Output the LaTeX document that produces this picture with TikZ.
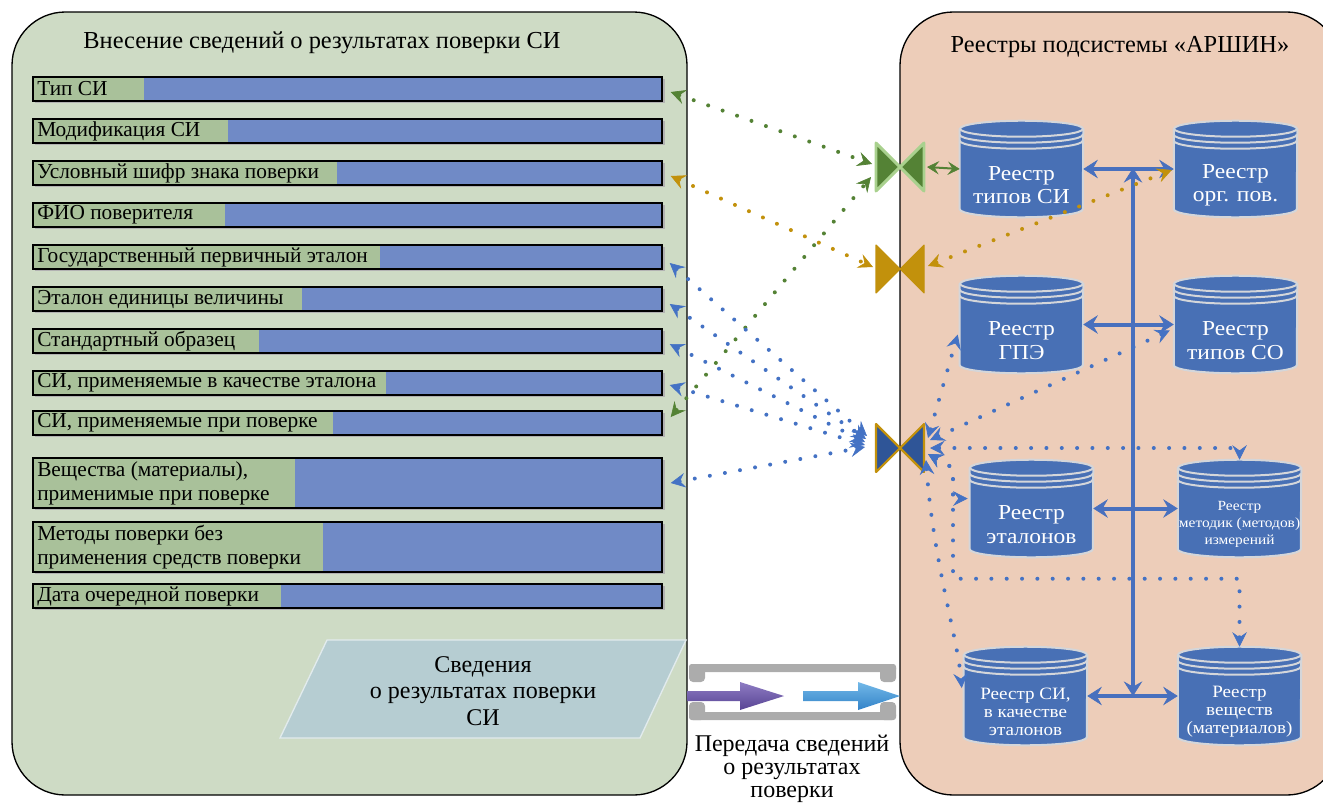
\documentclass[tikz,border=0pt]{standalone}
\usepackage{fontspec}
\setmainfont{Liberation Serif}
\newfontfamily\cylf[FakeStretch=1.1]{Liberation Serif}
\usetikzlibrary{arrows.meta,calc}
\definecolor{lpanel}{RGB}{206,219,197}
\definecolor{rpanel}{RGB}{237,205,185}
\definecolor{bargreen}{RGB}{169,193,154}
\definecolor{barblue}{RGB}{112,138,198}
\definecolor{cylblue}{RGB}{72,112,181}
\definecolor{cyledge}{RGB}{212,214,218}
\definecolor{dgreen}{RGB}{84,130,53}
\definecolor{lgreen}{RGB}{169,209,142}
\definecolor{gold}{RGB}{194,145,12}
\definecolor{dblue}{RGB}{47,85,151}
\definecolor{lineblue}{RGB}{68,114,196}
\definecolor{busblue}{RGB}{72,112,190}
\definecolor{para}{RGB}{182,205,210}
\definecolor{graybar}{RGB}{172,172,172}
\definecolor{purpL}{RGB}{142,124,195}
\definecolor{purpD}{RGB}{88,68,148}
\definecolor{skyL}{RGB}{115,185,232}
\definecolor{skyD}{RGB}{50,130,200}
\tikzset{
  panel/.style={draw=black, line width=1pt, rounded corners=40pt},
  barframe/.style={draw=black, line width=1.1pt, inner sep=0pt, minimum width=471.75pt},
  bartext/.style={inner sep=0pt, anchor=west, align=left, font=\fontsize{16}{18}\selectfont},
  cylnode/.style={inner sep=0pt},
  cyltext/.style={text=white, align=center},
  cyledgeline/.style={draw=cyledge, line width=1.5pt},
  dots/.style={line width=3pt, dash pattern=on 0pt off 11.5pt, line cap=round},
  dtips/.style={arrows={Stealth[length=11pt,width=11pt,inset=4pt,line width=0.5pt]-Stealth[length=11pt,width=11pt,inset=4pt,line width=0.5pt]}},
  bus/.style={draw=busblue, line width=3pt, arrows={Stealth[length=11pt,width=14pt,inset=4pt,line width=0.5pt]-Stealth[length=11pt,width=14pt,inset=4pt,line width=0.5pt]}},
  gtip/.style={draw=dgreen, line width=1.5pt, arrows={Stealth[length=9pt,width=10pt,inset=3.5pt,line width=0.5pt]-Stealth[length=9pt,width=10pt,inset=3.5pt,line width=0.5pt]}},
  bowt/.style={inner sep=0pt, minimum size=37.5pt},
  titletext/.style={font=\fontsize{18.3}{21}\selectfont},
}
\newcommand\infobar[5]{%
  \fill[black!30] (35,{#2+2}) rectangle (665,{#3+2});
  \fill[barblue] (33,#2) rectangle (662,#3);
  \fill[bargreen] (33,#2) rectangle (#4,#3);
  \node[barframe, minimum height={(#3-#2)*0.75pt}] (#1) at (347.5,{(#2+#3)/2}) {};
  \node[bartext] (#1t) at (37,{(#2+#3)/2}) {#5};
}
\newcommand\regcyl[7]{%
  \node[cylnode, minimum width={#4*0.75pt}, minimum height={#5*0.75pt}] (#1) at (#2,{#3+#5/2}) {};
  \fill[cylblue] ($(#1.north west)+(0,8)$) -- ($(#1.south west)+(0,-8)$)
     arc[start angle=180, end angle=360, x radius={#4*0.375pt}, y radius=6pt]
     -- ($(#1.north east)+(0,8)$) -- cycle;
  \draw[cyledgeline] ($(#1.north west)+(0,8)$) -- ($(#1.south west)+(0,-8)$)
     arc[start angle=180, end angle=360, x radius={#4*0.375pt}, y radius=6pt]
     -- ($(#1.north east)+(0,8)$);
  \filldraw[fill=cylblue, cyledgeline] ($(#1.north)+(0,8)$) ellipse[x radius={#4*0.375pt}, y radius=6pt];
  \draw[cyledgeline] ($(#1.north west)+(0,14)$) arc[start angle=180, end angle=360, x radius={#4*0.375pt}, y radius=6pt];
  \draw[cyledgeline] ($(#1.north west)+(0,20)$) arc[start angle=180, end angle=360, x radius={#4*0.375pt}, y radius=6pt];
  \node[cyltext, font=#6] (#1t) at ($(#1.center)+(0,16)$) {#7};
}
\newcommand\bowtienode[6]{%
  \node[bowt] (#1) at (#2,#3) {};
  \filldraw[fill=#4, draw=#5, line width=#6, line join=round] ($(#1.center)+(-24,-24)$) -- ($(#1.center)+(-24,24)$) -- (#1.center) -- cycle;
  \filldraw[fill=#4, draw=#5, line width=#6, line join=round] ($(#1.center)+(24,-24)$) -- ($(#1.center)+(24,24)$) -- (#1.center) -- cycle;
}
\begin{document}
\begin{tikzpicture}[x=0.75pt,y=-0.75pt]
\useasboundingbox (0,0) rectangle (1323,803);
\begin{scope}
\clip (0,0) rectangle (1323,803);
\draw[panel, fill=lpanel] (12,12) rectangle (687,795);
\draw[panel, fill=rpanel] (900,12) rectangle (1340,795);
\end{scope}

\node[titletext] (ltitle) at (322,43) {Внесение сведений о результатах поверки СИ};
\node[titletext] (rtitle) at (1120,47) {Реестры подсистемы «АРШИН»};

\infobar{b1}{77}{101}{144}{Тип СИ}
\infobar{b2}{119}{143}{228}{Модификация СИ}
\infobar{b3}{161}{185}{337}{Условный шифр знака поверки}
\infobar{b4}{203}{227}{225}{ФИО поверителя}
\infobar{b5}{245}{269}{380}{Государственный первичный эталон}
\infobar{b6}{287}{311}{302}{Эталон единицы величины}
\infobar{b7}{329}{353}{259}{Стандартный образец}
\infobar{b8}{371}{395}{386}{СИ, применяемые в качестве эталона}
\infobar{b9}{411}{435}{333}{СИ, применяемые при поверке}
\infobar{b10}{458}{508}{295}{Вещества (материалы),\\применимые при поверке}
\infobar{b11}{522}{572}{323}{Методы поверки без\\применения средств поверки}
\infobar{b12}{584}{608}{281}{Дата очередной поверки}

% parallelogram
\filldraw[fill=para, draw=white!60!para, line width=1pt] (327,640) -- (686,640) -- (640,738) -- (280,738) -- cycle;
\node[align=center, font=\fontsize{18}{20}\selectfont] (sved) at (483,691) {Сведения\\о результатах поверки\\СИ};

% transfer symbol
\fill[graybar, rounded corners=2pt] (689,664) rectangle (896,672);
\fill[graybar, rounded corners=3pt] (689,664) rectangle (705,682);
\fill[graybar, rounded corners=3pt] (880,664) rectangle (896,682);
\fill[graybar, rounded corners=2pt] (689,712) rectangle (896,720);
\fill[graybar, rounded corners=3pt] (689,702) rectangle (705,720);
\fill[graybar, rounded corners=3pt] (880,702) rectangle (896,720);
\shade[top color=purpL, bottom color=purpD] (687,691) -- (740,691) -- (740,682) -- (784,696) -- (740,710) -- (740,701) -- (687,701) -- cycle;
\shade[top color=skyL, bottom color=skyD] (803,691) -- (858,691) -- (858,682) -- (900,696) -- (858,710) -- (858,701) -- (803,701) -- cycle;
\node[align=center, font=\fontsize{18}{17.3}\selectfont] (transfer) at (792,769) {Передача сведений\\о результатах\\поверки};

% registers
\regcyl{c1}{1021.5}{121}{123}{96}{\cylf\fontsize{16}{17.5}\selectfont}{Реестр\\типов СИ}
\regcyl{c2}{1235.5}{121}{123}{96}{\cylf\fontsize{16}{17.5}\selectfont}{Реестр\\орг. пов.}
\regcyl{c3}{1021.5}{276}{123}{97}{\cylf\fontsize{16}{17.5}\selectfont}{Реестр\\ГПЭ}
\regcyl{c4}{1235.5}{276}{123}{97}{\cylf\fontsize{16}{17.5}\selectfont}{Реестр\\типов СО}
\regcyl{c5}{1031.5}{460}{123}{97}{\cylf\fontsize{16}{17.5}\selectfont}{Реестр\\эталонов}
\regcyl{c6}{1239.5}{460}{123}{97}{\cylf\fontsize{10.5}{12.75}\selectfont}{Реестр\\методик (методов)\\измерений}
\regcyl{c7}{1025.5}{647}{123}{98}{\cylf\fontsize{13}{13.5}\selectfont}{Реестр СИ,\\в качестве\\эталонов}
\regcyl{c8}{1239.5}{647}{123}{98}{\cylf\fontsize{13}{13.5}\selectfont}{Реестр\\веществ\\(материалов)}

% bus
\coordinate (busT) at (1133,168);
\coordinate (busB) at (1133,696);
\draw[bus] (busT) -- (busB);
\draw[bus] (c1.east) -- (c2.west);
\draw[bus] (c3.east) -- (c4.west);
\draw[bus] (c5.east) -- (c6.west);
\draw[bus] (c7.east) -- (c8.west);

% bowties
\bowtienode{bt1}{900}{167}{dgreen}{lgreen}{2.2pt}
\bowtienode{bt2}{900}{269}{gold}{gold}{0.8pt}
\bowtienode{bt3}{900}{448}{dblue}{gold}{1.6pt}

\draw[gtip] ($(bt1.center)+(27,0)$) -- (c1.west);

% green and gold dotted links
\draw[dots, dtips, draw=dgreen] ($(b1.east)+(8,3)$) -- ($(bt1.center)+(-28,-3)$);
\draw[dots, dtips, draw=dgreen] ($(b9.east)+(8,-6)$) -- ($(bt1.center)+(-29,10)$);
\draw[dots, dtips, draw=gold] ($(b3.east)+(8,3)$) -- ($(bt2.center)+(-27,-2)$);
\draw[dots, dtips, draw=gold] ($(bt2.center)+(28,-3)$) -- ($(c2.west)+(-2,1)$);

% blue dotted links (left)
\draw[dots, dtips, draw=lineblue] ($(b5.east)+(7,6)$) -- ($(bt3.center)+(-33,-12)$);
\draw[dots, dtips, draw=lineblue] ($(b6.east)+(7,5)$) -- ($(bt3.center)+(-34,-9)$);
\draw[dots, dtips, draw=lineblue] ($(b7.east)+(7,3)$) -- ($(bt3.center)+(-35,-6)$);
\draw[dots, dtips, draw=lineblue] ($(b8.east)+(7,2)$) -- ($(bt3.center)+(-35,-3)$);
\draw[dots, dtips, draw=lineblue] ($(b10.east)+(8,0)$) -- ($(bt3.center)+(-35,-1)$);

% blue dotted links (right)
\draw[dots, dtips, draw=lineblue] ($(bt3.center)+(28,-10)$) -- ($(c3.west)+(-2,10)$);
\draw[dots, dtips, draw=lineblue] ($(bt3.center)+(30,-8)$) -- ($(c4.west)+(-4,6)$);
\draw[dots, dtips, draw=lineblue] ($(bt3.center)+(30,0)$) -| (c6.north);
\draw[dots, dtips, draw=lineblue] ($(bt3.center)+(28,6)$) -- (953,468) |- ($(c5.west)+(-2,-10)$);
\draw[dots, dtips, draw=lineblue] ($(bt3.center)+(28,6)$) -- (953,468) |- ($(c8.north)+(0,-68)$) -- (c8.north);
\draw[dots, dtips, draw=lineblue] ($(bt3.center)+(26,12)$) .. controls (933,560) and (958,640) .. ($(c7.west)+(-2,-8)$);
\end{tikzpicture}
\end{document}
